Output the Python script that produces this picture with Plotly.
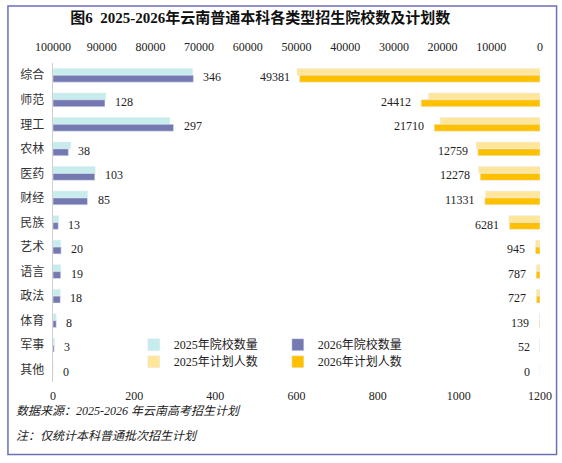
import plotly.graph_objects as go

categories = ["综合", "师范", "理工", "农林", "医药", "财经", "民族",
              "艺术", "语言", "政法", "体育", "军事", "其他"]

schools_2025 = [344, 130, 288, 44, 104, 85, 14, 19, 19, 18, 8, 4, 0]
schools_2026 = [346, 128, 297, 38, 103, 85, 13, 20, 19, 18, 8, 3, 0]
plans_2025 = [49900, 22900, 20500, 13100, 12600, 11200, 6400, 880, 750, 720, 150, 60, 0]
plans_2026 = [49381, 24412, 21710, 12759, 12278, 11331, 6281, 945, 787, 727, 139, 52, 0]

top_ticks = [100000, 90000, 80000, 70000, 60000, 50000, 40000, 30000, 20000, 10000, 0]
bottom_ticks = [0, 200, 400, 600, 800, 1000, 1200]

C_S25 = "#c6ecec"
C_S26 = "#7579b2"
C_P25 = "#ffe699"
C_P26 = "#ffc000"
FONT = "Liberation Serif, Noto Sans CJK SC"

fig = go.Figure()

# school counts, bottom axis
fig.add_trace(go.Bar(y=categories, x=schools_2025, orientation="h", name="2025年院校数量",
                     marker_color=C_S25, width=0.28, offset=-0.28,
                     xaxis="x", yaxis="y", legend="legend"))
fig.add_trace(go.Bar(y=categories, x=schools_2026, orientation="h", name="2026年院校数量",
                     marker_color=C_S26, width=0.28, offset=0.0,
                     xaxis="x", yaxis="y", legend="legend"))

# plan counts, top axis (reversed)
fig.add_trace(go.Bar(y=categories, x=plans_2025, orientation="h", name="2025年计划人数",
                     marker_color=C_P25, width=0.28, offset=-0.28,
                     xaxis="x2", yaxis="y", legend="legend2"))
fig.add_trace(go.Bar(y=categories, x=plans_2026, orientation="h", name="2026年计划人数",
                     marker_color=C_P26, width=0.28, offset=0.0,
                     xaxis="x2", yaxis="y", legend="legend2"))

# value labels for 2026
for cat, v in zip(categories, schools_2026):
    fig.add_annotation(x=v, y=cat, xref="x", yref="y", text=str(v), showarrow=False,
                       xanchor="left", xshift=8, yshift=-2,
                       font=dict(family=FONT, size=12, color="#222"))
for cat, v in zip(categories, plans_2026):
    fig.add_annotation(x=v, y=cat, xref="x2", yref="y", text=str(v), showarrow=False,
                       xanchor="right", xshift=-8, yshift=-2,
                       font=dict(family=FONT, size=12, color="#222"))

# notes
fig.add_annotation(x=-0.08, y=-0.09, xref="paper", yref="paper", xanchor="left", yanchor="middle",
                   text="<i>数据来源：2025-2026 年云南高考招生计划</i>", showarrow=False,
                   font=dict(family=FONT, size=12, color="#222"))
fig.add_annotation(x=-0.08, y=-0.17, xref="paper", yref="paper", xanchor="left", yanchor="middle",
                   text="<i>注：仅统计本科普通批次招生计划</i>", showarrow=False,
                   font=dict(family=FONT, size=12, color="#222"))

# frame
fig.add_shape(type="rect", xref="paper", yref="paper", x0=-0.0925, x1=1.034, y0=-0.2276, y1=1.1786,
              line=dict(color="#6b6fb5", width=1.5), fillcolor="rgba(0,0,0,0)", layer="below")

fig.update_layout(
    width=562, height=463,
    margin=dict(l=53, r=22, t=63, b=81, autoexpand=False),
    paper_bgcolor="white", plot_bgcolor="white",
    font=dict(family=FONT, size=12, color="#222"),
    title=dict(text="<b>图6  2025-2026年云南普通本科各类型招生院校数及计划数</b>",
               x=0.463, xanchor="center", y=0.962, yanchor="middle",
               font=dict(family=FONT, size=15, color="#111")),
    barmode="overlay",
    showlegend=True,
    xaxis=dict(range=[0, 1200], tickvals=bottom_ticks, showgrid=False, zeroline=False,
               showline=False, ticks="", tickfont=dict(size=12), side="bottom",
               ticklabelstandoff=5, automargin=False),
    xaxis2=dict(range=[100000, 0], tickvals=top_ticks, tickformat="d", overlaying="x",
                side="top", showgrid=False, zeroline=False, showline=False, ticks="",
                tickfont=dict(size=12), ticklabelstandoff=9, automargin=False),
    yaxis=dict(autorange="reversed", showgrid=False, zeroline=False, showline=True,
               linecolor="#d0d0d0", linewidth=1, ticks="", ticksuffix="  ",
               tickfont=dict(family="Noto Sans CJK SC", size=12, color="#333"),
               automargin=False),
    legend=dict(orientation="h", x=0.166, y=0.117, xanchor="left", yanchor="middle",
                entrywidth=99, entrywidthmode="pixels", bgcolor="rgba(0,0,0,0)",
                font=dict(family=FONT, size=12), itemwidth=30, tracegroupgap=0),
    legend2=dict(orientation="h", x=0.166, y=0.0635, xanchor="left", yanchor="middle",
                 entrywidth=99, entrywidthmode="pixels", bgcolor="rgba(0,0,0,0)",
                 font=dict(family=FONT, size=12), itemwidth=30, tracegroupgap=0),
)

# page body has a default 8px margin; drop it so the figure sits at the window origin
fig.write_html("out.html", config={"displayModeBar": False},
               post_script="document.body.style.margin='0';")
